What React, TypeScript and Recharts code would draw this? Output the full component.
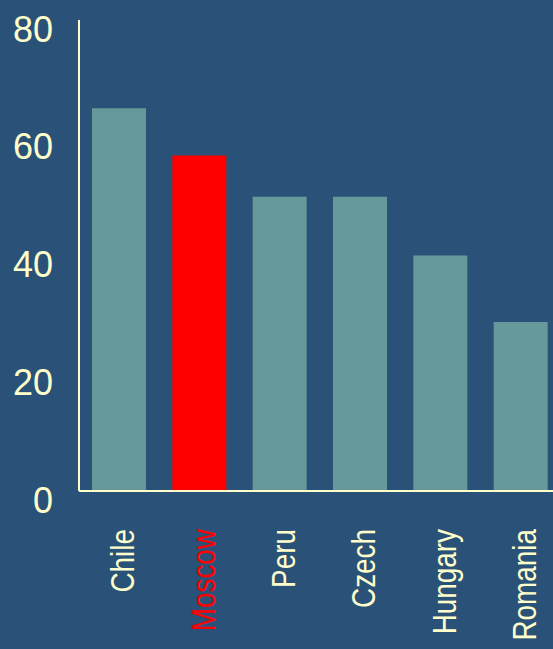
import React from "react";
import { BarChart, Bar, XAxis, YAxis, Cell } from "recharts";

const categories = ["Chile", "Moscow", "Peru", "Czech", "Hungary", "Romania"];
const values = [65, 57, 50, 50, 40, 28.7];
const highlight = ["Moscow"];
const yTicks = [0, 20, 40, 60, 80];

const data = categories.map((name, i) => ({ name, value: values[i] }));

const BG = "#2a5279";
const CREAM = "#ffffcc";
const BAR = "#669999";
const RED = "#ff0000";

const XTick = (props: any) => {
  const { x, y, payload } = props;
  const bx = x + 15;
  const by = y + 30;
  const isRed = highlight.includes(payload.value);
  return (
    <text
      x={0}
      y={0}
      transform={`translate(${bx}, ${by}) rotate(-90) scale(0.82, 1)`}
      textAnchor="end"
      fill={isRed ? RED : CREAM}
      fontFamily="'Liberation Sans', Arial, sans-serif"
      fontSize={34}
    >
      {payload.value}
    </text>
  );
};

const YTick = (props: any) => {
  const { y, payload } = props;
  return (
    <text
      x={53}
      y={y + 9}
      textAnchor="end"
      dominantBaseline="central"
      fill={CREAM}
      fontFamily="'Liberation Sans', Arial, sans-serif"
      fontSize={36}
    >
      {payload.value}
    </text>
  );
};

export default function App() {
  return (
    <div
      style={{
        position: "fixed",
        left: 0,
        top: 0,
        width: 553,
        height: 649,
        overflow: "hidden",
        background: BG,
      }}
    >
      <BarChart
        width={570}
        height={649}
        data={data}
        margin={{ top: 20, right: 9, bottom: 0, left: 0 }}
        barCategoryGap={13}
      >
        <XAxis
          dataKey="name"
          height={158}
          axisLine={{ stroke: CREAM, strokeWidth: 2 }}
          tickLine={false}
          tick={<XTick />}
          interval={0}
        />
        <YAxis
          width={79}
          domain={[0, 80]}
          ticks={yTicks}
          axisLine={{ stroke: CREAM, strokeWidth: 2 }}
          tickLine={false}
          tick={<YTick />}
        />
        <Bar dataKey="value" isAnimationActive={false}>
          {data.map((d) => (
            <Cell key={d.name} fill={highlight.includes(d.name) ? RED : BAR} />
          ))}
        </Bar>
      </BarChart>
    </div>
  );
}
